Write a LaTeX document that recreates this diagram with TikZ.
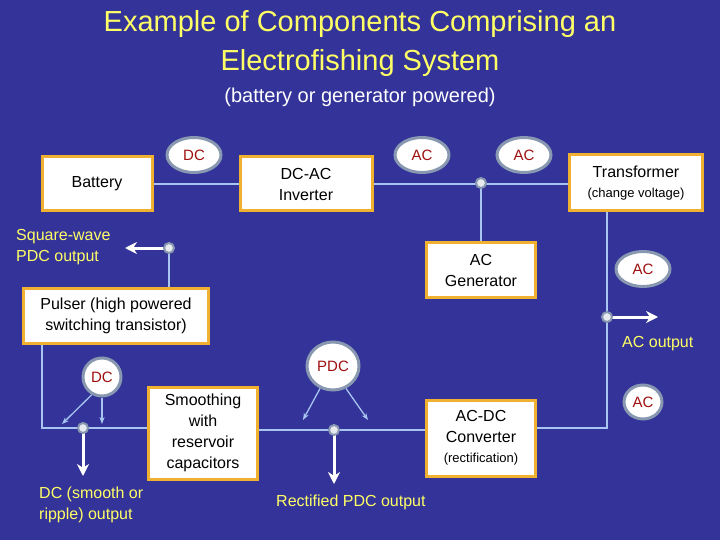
\documentclass[tikz,border=0pt]{standalone}
\usepackage{fontspec}
\setmainfont{Liberation Sans}
\usetikzlibrary{shapes.geometric,arrows.meta}
\pgfdeclarelayer{background}
\pgfsetlayers{background,main}
\definecolor{bg}{HTML}{333399}
\definecolor{ln}{HTML}{A8C4F0}
\definecolor{yl}{HTML}{FFFF66}
\definecolor{bd}{HTML}{F0B030}
\definecolor{el}{HTML}{8898B0}
\definecolor{rd}{HTML}{A01010}
\tikzset{
 box/.style={draw=bd,line width=3pt,fill=white,align=center,font=\fontsize{16}{21}\selectfont,inner sep=0pt},
 lab/.style={ellipse,draw=el,line width=3pt,fill=white,text=rd,font=\fontsize{15}{18}\selectfont,inner sep=0pt},
 wire/.style={ln,line width=2.5pt},
 jn/.style={circle,draw=el,fill=white!80!el,line width=2pt,minimum size=10pt,inner sep=0pt},
 outarrow/.style={white,line width=3pt,-{Stealth[length=12pt,width=12pt]}},
 thinarrow/.style={ln,line width=1.3pt,-{Stealth[length=7pt]}},
 ylab/.style={text=yl,font=\fontsize{16}{21}\selectfont,align=left,inner sep=0pt}
}
\begin{document}
\begin{tikzpicture}[x=1pt,y=-1pt]
\begin{pgfonlayer}{background}
\fill[bg] (0,0) rectangle (720,540);
\end{pgfonlayer}
\useasboundingbox (0,0) rectangle (720,540);
\node[text=yl,font=\fontsize{29}{39}\selectfont,align=center] (t) at (360,44) {Example of Components Comprising an\\Electrofishing System};
\node[text=white,font=\fontsize{20}{24}\selectfont] (st) at (360,97) {(battery or generator powered)};
\coordinate (j1) at (481,183);
\coordinate (j2) at (607,317);
\coordinate (c1) at (607,428);
\coordinate (j3) at (169,248);
\coordinate (c2) at (42,428);
\coordinate (j4) at (83,428);
\coordinate (j5) at (334,430);
\node[box,minimum width=110pt,minimum height=54pt] (bat) at (97,184) {Battery};
\node[box,minimum width=132pt,minimum height=54pt] (inv) at (306,184) {DC-AC\\Inverter};
\node[box,minimum width=133pt,minimum height=56pt] (tr) at (636,183) {Transformer\\[-1pt]{\fontsize{13}{15}\selectfont(change voltage)}};
\node[box,minimum width=109pt,minimum height=55pt] (gen) at (481,270) {AC\\Generator};
\node[box,minimum width=185pt,minimum height=55pt] (pul) at (116,316) {Pulser (high powered\\switching transistor)};
\node[box,minimum width=109pt,minimum height=92pt] (sm) at (203,433) {Smoothing\\with\\reservoir\\capacitors};
\node[box,minimum width=109pt,minimum height=76pt] (acdc) at (481,438) {AC-DC\\Converter\\[-1pt]{\fontsize{13}{16}\selectfont(rectification)}};
\begin{pgfonlayer}{background}
\draw[wire] (bat.east) -- (inv.west |- bat.east);
\draw[wire] (inv.east) -- (tr.west |- inv.east);
\draw[wire] (j1) -- (gen.north);
\draw[wire] (j2 |- tr.south) -- (j2) -- (c1) -- (acdc.east |- c1);
\draw[wire] (j3 |- pul.north) -- (j3);
\draw[wire] (c2 |- pul.south) -- (c2) -- (sm.west |- c2);
\draw[wire] (sm.east |- j5) -- (acdc.west |- j5);
\end{pgfonlayer}
\coordinate (o1) at (125,248);
\coordinate (o2) at (658,317);
\coordinate (o3) at (83,476);
\coordinate (o4) at (334,484);
\draw[outarrow] (j3) -- (o1);
\draw[outarrow] (j2) -- (o2);
\draw[outarrow] (j4) -- (o3);
\draw[outarrow] (j5) -- (o4);
\node[jn] (n1) at (j1) {};
\node[jn] (n2) at (j2) {};
\node[jn] (n3) at (j3) {};
\node[jn] (n4) at (j4) {};
\node[jn] (n5) at (j5) {};
\node[lab,minimum width=54pt,minimum height=35pt] (e1) at (194,155) {DC};
\node[lab,minimum width=54pt,minimum height=35pt] (e2) at (422,155) {AC};
\node[lab,minimum width=54pt,minimum height=35pt] (e3) at (524,155) {AC};
\node[lab,minimum width=54pt,minimum height=35pt] (e4) at (643,269) {AC};
\node[lab,minimum width=52pt,minimum height=48pt] (e5) at (333,366) {PDC};
\node[lab,minimum width=38pt,minimum height=38pt] (e6) at (102,377) {DC};
\node[lab,minimum width=38pt,minimum height=34pt] (e7) at (643,402) {AC};
\coordinate (a1) at (62,424);
\coordinate (a2) at (102,424);
\coordinate (a3) at (303,420);
\coordinate (a4) at (368,420);
\draw[thinarrow] (e6.240) -- (a1);
\draw[thinarrow] (e6.south) -- (a2);
\draw[thinarrow] (e5.240) -- (a3);
\draw[thinarrow] (e5.300) -- (a4);
\node[ylab,anchor=north west] (l1) at (16,229) {Square-wave\\PDC output};
\node[ylab,anchor=north west] (l2) at (622,336) {AC output};
\node[ylab,anchor=north west] (l3) at (39,487) {DC (smooth or\\ripple) output};
\node[ylab,anchor=north west] (l4) at (276,495) {Rectified PDC output};
\end{tikzpicture}
\end{document}
